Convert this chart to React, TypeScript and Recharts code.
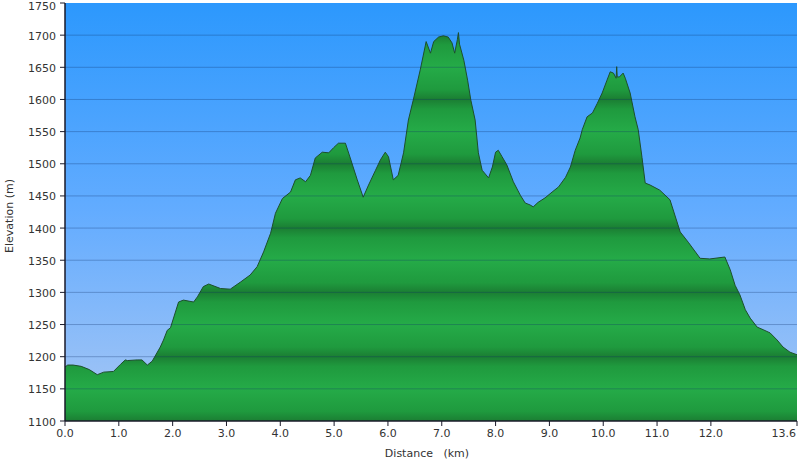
import React from 'react';
import { ComposedChart, Area, XAxis, YAxis, ReferenceLine, CartesianGrid } from 'recharts';

const distanceKm = [0, 0.05, 0.15, 0.3, 0.45, 0.6, 0.72, 0.9, 1.03, 1.12, 1.16, 1.34, 1.43, 1.53, 1.62, 1.77, 1.83, 1.9, 1.96, 2.11, 2.2, 2.39, 2.46, 2.57, 2.67, 2.89, 3.07, 3.26, 3.44, 3.57, 3.69, 3.82, 3.91, 4.04, 4.19, 4.28, 4.37, 4.47, 4.56, 4.65, 4.78, 4.9, 4.99, 5.08, 5.21, 5.3, 5.43, 5.54, 5.64, 5.77, 5.86, 5.95, 6.01, 6.1, 6.19, 6.29, 6.38, 6.47, 6.6, 6.71, 6.79, 6.85, 6.94, 7.03, 7.12, 7.19, 7.24, 7.29, 7.31, 7.33, 7.41, 7.48, 7.54, 7.62, 7.68, 7.75, 7.87, 7.94, 8.0, 8.05, 8.12, 8.21, 8.33, 8.46, 8.55, 8.64, 8.7, 8.79, 8.92, 9.05, 9.17, 9.3, 9.39, 9.48, 9.57, 9.61, 9.7, 9.8, 9.89, 9.98, 10.07, 10.13, 10.19, 10.24, 10.25, 10.26, 10.3, 10.37, 10.41, 10.5, 10.59, 10.65, 10.72, 10.78, 10.87, 11.05, 11.24, 11.43, 11.58, 11.8, 11.98, 12.26, 12.36, 12.45, 12.54, 12.64, 12.73, 12.86, 12.97, 13.1, 13.23, 13.34, 13.47, 13.6];

const elevationM = [1184, 1187, 1187, 1185, 1180, 1172, 1176, 1177, 1188, 1195, 1194, 1195, 1195, 1187, 1193, 1215, 1226, 1241, 1245, 1285, 1288, 1285, 1293, 1309, 1313, 1306, 1305, 1316, 1327, 1340, 1363, 1392, 1423, 1446, 1456, 1475, 1478, 1472, 1482, 1509, 1518, 1517, 1525, 1532, 1532, 1509, 1475, 1448, 1467, 1490, 1506, 1518, 1511, 1475, 1482, 1517, 1568, 1599, 1646, 1690, 1672, 1690, 1697, 1699, 1697, 1688, 1672, 1693, 1704, 1686, 1661, 1630, 1599, 1568, 1517, 1490, 1478, 1495, 1518, 1521, 1511, 1498, 1472, 1451, 1439, 1436, 1433, 1440, 1447, 1456, 1464, 1479, 1495, 1521, 1540, 1553, 1573, 1579, 1594, 1610, 1630, 1643, 1641, 1633, 1651, 1635, 1635, 1641, 1633, 1610, 1573, 1553, 1510, 1470, 1467, 1459, 1444, 1394, 1378, 1353, 1352, 1355, 1335, 1311, 1296, 1273, 1260, 1246, 1242, 1237, 1226, 1215, 1207, 1203];

const xTicks = [0, 1, 2, 3, 4, 5, 6, 7, 8, 9, 10, 11, 12, 13.6];
const yTicks = [1100, 1150, 1200, 1250, 1300, 1350, 1400, 1450, 1500, 1550, 1600, 1650, 1700, 1750];
const gridLevels = [1150, 1200, 1250, 1300, 1350, 1400, 1450, 1500, 1550, 1600, 1650, 1700];

const data = distanceKm.map((d, i) => ({ d, e: elevationM[i] }));

const W = 800;
const H = 462;
const M = { top: 3, right: 3, left: 0, bottom: 0 };
const Y_W = 65;
const X_H = 41;
const Y_MIN = 1100;
const Y_MAX = 1750;
const plotH = H - M.top - M.bottom - X_H;
const pxPerM = plotH / (Y_MAX - Y_MIN);
const bandTop = M.top + (Y_MAX - 1700) * pxPerM;
const bandBottom = bandTop + 100 * pxPerM;

const FONT = '"DejaVu Sans", Verdana, sans-serif';

const XTick = (props: any) => {
  const { x, y, payload } = props;
  const last = payload.value === 13.6;
  return (
    <text x={last ? x - 1 : x} y={y} dy={9} textAnchor={last ? 'end' : 'middle'} fontSize={11} fontFamily={FONT} fill="#333">
      {Number(payload.value).toFixed(1)}
    </text>
  );
};

const YTick = (props: any) => {
  const { x, y, payload } = props;
  const top = payload.value === Y_MAX;
  return (
    <text x={x} y={y} dy={top ? 7 : 4.5} textAnchor="end" fontSize={11} fontFamily={FONT} fill="#333">
      {payload.value}
    </text>
  );
};

export default function App() {
  return (
    <div style={{ position: 'absolute', left: 0, top: 0, width: W, height: H, background: '#fff' }}>
      <ComposedChart width={W} height={H} data={data} margin={M}>
        <defs>
          <linearGradient id="sky" x1="0" y1="0" x2="0" y2="1">
            <stop offset="0" stopColor="#2c98fd" />
            <stop offset="0.5" stopColor="#63acff" />
            <stop offset="1" stopColor="#a8c7f4" />
          </linearGradient>
          <linearGradient id="ground" gradientUnits="userSpaceOnUse" x1="0" y1={bandTop} x2="0" y2={bandBottom} spreadMethod="repeat">
            <stop offset="0" stopColor="#1b7e33" />
            <stop offset="0.15" stopColor="#1f9a3e" />
            <stop offset="0.5" stopColor="#25ab48" />
            <stop offset="0.85" stopColor="#1f9a3e" />
            <stop offset="1" stopColor="#1b7e33" />
          </linearGradient>
        </defs>
        <CartesianGrid horizontal={false} vertical={false} fill="url(#sky)" stroke="none" />
        <XAxis
          dataKey="d"
          type="number"
          domain={[0, 13.6]}
          ticks={xTicks}
          interval={0}
          height={X_H}
          tick={<XTick />}
          tickSize={5}
          tickMargin={2}
          axisLine={{ stroke: '#1a1a2a', strokeWidth: 1.5 }}
          tickLine={{ stroke: '#1a1a2a' }}
          allowDataOverflow
          label={{
            content: (p: any) => {
              const vb = p.viewBox;
              return (
                <text x={vb.x + vb.width / 2 - 4} y={vb.y + 36} textAnchor="middle" fontSize={11} fontFamily={FONT} fill="#333" style={{ whiteSpace: 'pre' }}>
                  {'Distance   (km)'}
                </text>
              );
            },
          }}
        />
        <YAxis
          type="number"
          domain={[Y_MIN, Y_MAX]}
          ticks={yTicks}
          interval={0}
          width={Y_W}
          tick={<YTick />}
          tickSize={5}
          tickMargin={4}
          axisLine={{ stroke: '#1a1a2a', strokeWidth: 1.5 }}
          tickLine={{ stroke: '#1a1a2a' }}
          allowDataOverflow
          label={{
            content: (p: any) => {
              const vb = p.viewBox;
              const cx = vb.x + 13;
              const cy = vb.y + vb.height / 2 + 4;
              return (
                <text x={cx} y={cy} transform={`rotate(-90, ${cx}, ${cy})`} textAnchor="middle" fontSize={11} fontFamily={FONT} fill="#333">
                  Elevation (m)
                </text>
              );
            },
          }}
        />
        <Area
          type="linear"
          dataKey="e"
          baseValue={Y_MIN}
          stroke="#1d4f2c"
          strokeWidth={1}
          fill="url(#ground)"
          fillOpacity={1}
          isAnimationActive={false}
          dot={false}
          activeDot={false}
        />
        {gridLevels.map((v) => (
          <ReferenceLine key={v} y={v} stroke="#0c2f66" strokeOpacity={0.3} strokeWidth={1} ifOverflow="visible" />
        ))}
      </ComposedChart>
    </div>
  );
}
